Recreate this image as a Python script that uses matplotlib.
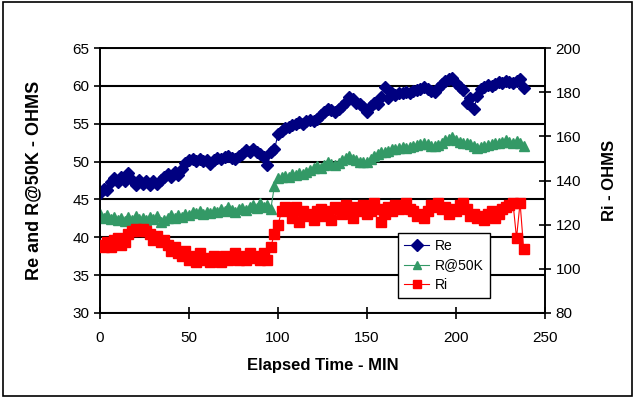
"""Re, R@50K and Ri resistance vs elapsed time, dual y axis."""

import matplotlib
matplotlib.use("Agg")
import matplotlib.pyplot as plt
from matplotlib.patches import Rectangle

plt.rcParams["font.family"] = ["Liberation Sans", "DejaVu Sans"]

# elapsed time, minutes
time_min = [
    0, 2, 4, 6, 8, 10, 12, 14, 16, 18, 20, 22, 24, 26, 28, 30, 32, 34, 36, 38,
    40, 42, 44, 46, 48, 50, 52, 54, 56, 58, 60, 62, 64, 66, 68, 70, 72, 74, 76, 78,
    80, 82, 84, 86, 88, 90, 92, 94, 96, 98, 100, 102, 104, 106, 108, 110, 112, 114, 116, 118,
    120, 122, 124, 126, 128, 130, 132, 134, 136, 138, 140, 142, 144, 146, 148, 150, 152, 154, 156, 158,
    160, 162, 164, 166, 168, 170, 172, 174, 176, 178, 180, 182, 184, 186, 188, 190, 192, 194, 196, 198,
    200, 202, 204, 206, 208, 210, 212, 214, 216, 218, 220, 222, 224, 226, 228, 230, 232, 234, 236, 238,
]

# left axis (ohms)
re_ohms = [
    45.8, 46.4, 46.2, 47.3, 47.8, 47.3, 47.9, 47.4, 48.5, 47.6, 46.9, 47.6, 47.0, 47.4, 46.9, 47.4, 47.1, 47.6, 48.0, 48.3,
    48.0, 48.6, 48.2, 49.0, 49.8, 50.2, 50.3, 50.1, 50.3, 50.1, 50.2, 49.7, 50.2, 50.5, 50.3, 50.6, 50.8, 50.5, 50.4, 50.8,
    51.0, 51.5, 51.3, 51.6, 51.2, 51.0, 50.6, 49.6, 51.2, 51.6, 53.6, 54.1, 54.4, 54.6, 54.8, 55.0, 55.2, 55.0, 55.4, 55.5,
    55.3, 55.6, 56.1, 56.6, 56.9, 56.8, 56.5, 57.0, 57.4, 57.9, 58.5, 58.2, 57.8, 57.6, 57.2, 56.6, 57.4, 57.8, 57.6, 58.5,
    59.9, 58.4, 59.0, 58.8, 59.1, 59.0, 59.2, 59.1, 59.3, 59.5, 59.6, 59.8, 59.6, 59.3, 59.2, 59.7, 60.2, 60.6, 60.9, 61.0,
    60.4, 59.9, 59.5, 57.8, 58.4, 57.0, 58.6, 59.6, 59.9, 60.1, 60.0, 60.3, 60.5, 60.4, 60.6, 60.5, 60.4, 60.7, 60.9, 59.7,
]
r50k_ohms = [
    43.1, 42.6, 42.9, 42.4, 42.7, 42.3, 42.6, 42.2, 42.7, 42.3, 42.8, 42.4, 42.6, 42.3, 42.7, 42.4, 42.8, 42.0, 42.3, 42.5,
    42.9, 42.6, 42.9, 42.7, 43.1, 43.0, 43.4, 43.2, 43.5, 43.1, 43.3, 43.2, 43.5, 43.3, 43.7, 43.5, 44.0, 43.6, 43.3, 43.7,
    43.9, 43.6, 44.0, 44.2, 43.9, 44.5, 44.0, 44.2, 43.8, 46.8, 47.8, 47.9, 48.1, 48.0, 48.3, 48.2, 48.5, 48.4, 48.6, 48.9,
    49.2, 49.4, 49.2, 49.6, 49.9, 49.7, 49.5, 49.8, 50.2, 50.5, 50.7, 50.4, 50.2, 50.0, 49.9, 50.0, 50.4, 50.7, 51.0, 51.2,
    51.3, 51.4, 51.6, 51.7, 51.8, 51.9, 51.8, 51.9, 52.0, 52.2, 52.3, 52.5, 52.3, 52.1, 52.0, 52.2, 52.5, 52.8, 53.0, 53.2,
    52.9, 52.6, 52.4, 52.5, 52.3, 52.0, 51.8, 51.9, 52.1, 52.2, 52.3, 52.4, 52.4, 52.6, 52.8, 52.6, 52.5, 52.7, 52.4, 52.0,
]

# right axis (ohms)
ri_ohms = [
    111, 110, 112, 110, 113, 114, 111, 112, 116, 117, 118, 117, 118, 117, 116, 113, 115, 112, 113, 111,
    108, 110, 107, 106, 108, 104, 106, 103, 107, 104, 105, 103, 106, 104, 103, 106, 104, 105, 107, 104,
    106, 104, 107, 105, 106, 104, 107, 104, 110, 116, 120, 126, 128, 127, 123, 128, 121, 126, 124, 125,
    122, 126, 127, 124, 126, 122, 128, 127, 125, 129, 126, 123, 128, 126, 129, 125, 126, 130, 127, 121,
    125, 128, 126, 129, 127, 128, 130, 127, 126, 124, 125, 123, 126, 129, 128, 130, 127, 128, 125, 127,
    126, 129, 130, 127, 124, 125, 123, 124, 122, 125, 126, 123, 125, 127, 128, 129, 130, 114, 130, 109,
]

left_ticks = [30, 35, 40, 45, 50, 55, 60, 65]
right_ticks = [80, 100, 120, 140, 160, 180, 200]
x_ticks = [0, 50, 100, 150, 200, 250]

fig = plt.figure(figsize=(6.35, 3.98), dpi=100)
ax = fig.add_axes([100 / 635, 1 - 313 / 398, 445 / 635, 265 / 398])
ax2 = ax.twinx()

# outer chart border
fig.patches.append(Rectangle((0.004, 0.006), 0.992, 0.988, transform=fig.transFigure,
                             fill=False, edgecolor="black", lw=1.2))

h_re, = ax.plot(time_min, re_ohms, color="#000080", lw=0.8, marker="D", ms=6,
                label="Re", zorder=3)
h_r50, = ax.plot(time_min, r50k_ohms, color="#339966", lw=0.8, marker="^", ms=7,
                 label="R@50K", zorder=3)
h_ri, = ax2.plot(time_min, ri_ohms, color="#FF0000", lw=0.8, marker="s", ms=6.5,
                 label="Ri", zorder=3)

ax.set_xlim(0, 250)
ax.set_ylim(30, 65)
ax2.set_ylim(80, 200)
ax.set_xticks(x_ticks)
ax.set_yticks(left_ticks)
ax2.set_yticks(right_ticks)

ax.grid(True, axis="y", color="black", lw=1.5)
ax.set_axisbelow(True)
for a in (ax, ax2):
    for s in a.spines.values():
        s.set_color("black")
        s.set_linewidth(1.2)
ax.tick_params(axis="both", direction="inout", length=8, width=1.2, labelsize=11)
ax.tick_params(axis="x", pad=9)
ax2.tick_params(axis="y", direction="inout", length=8, width=1.2, labelsize=11)

ax.set_xlabel("Elapsed Time - MIN", fontsize=12, fontweight="bold", labelpad=9)
ax.set_ylabel("Re and R@50K - OHMS", fontsize=13, fontweight="bold", labelpad=22)
ax2.set_ylabel("Ri - OHMS", fontsize=12, fontweight="bold", labelpad=15)

leg = ax2.legend(handles=[h_re, h_r50, h_ri], loc="lower left",
                 bbox_to_anchor=(0.66, 0.04), fontsize=10, frameon=True,
                 fancybox=False, edgecolor="black", framealpha=1,
                 handlelength=1.8, handletextpad=0.4, borderpad=0.45,
                 labelspacing=0.4, borderaxespad=0.3)
leg.get_frame().set_linewidth(1.0)
for h in leg.legend_handles:
    h.set_markersize(6)

fig.savefig("out.png", dpi=100)
